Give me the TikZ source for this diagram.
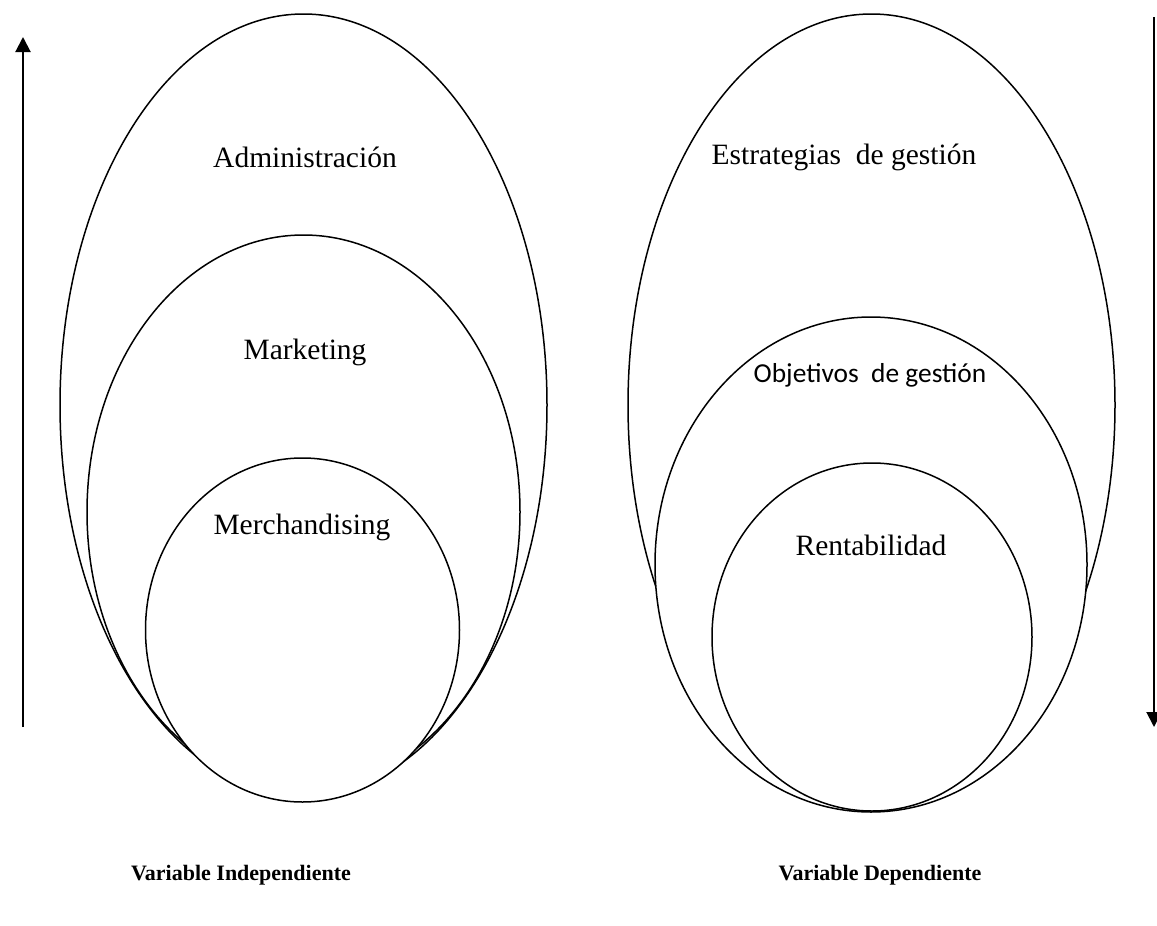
\documentclass[tikz,border=0pt]{standalone}
\usepackage{fontspec}
\setmainfont{Liberation Serif}
\newfontfamily\calibrilike{Carlito}
\usetikzlibrary{arrows.meta,shapes.geometric}
\begin{document}
\begin{tikzpicture}[x=1pt,y=-1pt,
  ring/.style={ellipse, draw=black, fill=white, line width=1.5pt, inner sep=0pt, outer sep=0pt},
  lbl/.style={font=\fontsize{29.5}{34}\selectfont, inner sep=0pt},
  sanslbl/.style={font=\calibrilike\fontsize{27.4}{32}\selectfont, inner sep=0pt},
  caption/.style={font=\fontsize{22}{26}\selectfont\bfseries, inner sep=0pt},
  axis/.style={line width=2pt, -{Triangle[width=15pt,length=15pt]}}]
\useasboundingbox (0,0) rectangle (1157,926);
\clip (0,0) rectangle (1157,926);

% independent variable: nested sets
\node[ring, minimum width=487pt, minimum height=782pt] (admin) at (303.5,405) {};
\node[ring, minimum width=433pt, minimum height=554pt] (mkt) at (303.5,512) {};
\node[ring, minimum width=314pt, minimum height=344pt] (merch) at (302.5,630) {};

% dependent variable: nested sets
\node[ring, minimum width=487pt, minimum height=782pt] (estr) at (871.5,405) {};
\node[ring, minimum width=432pt, minimum height=495pt] (obj) at (871,564.5) {};
\node[ring, minimum width=320pt, minimum height=348pt] (rent) at (872,637) {};

% labels
\node[lbl] (tadmin) at (305,157) {Administración};
\node[lbl] (tmkt) at (305,352) {Marketing};
\node[lbl] (tmerch) at (302,527) {Merchandising};
\node[lbl] (testr) at (844,157) {Estrategias\ \ de gestión};
\node[sanslbl] (tobj) at (870,375) {Objetivos\ \ de gestión};
\node[lbl] (trent) at (871,545) {Rentabilidad};

\node[caption] (cind) at (241,875) {Variable Independiente};
\node[caption] (cdep) at (880,875) {Variable Dependiente};

% direction arrows
\coordinate (lb) at (23,727);
\coordinate (lt) at (23,37);
\draw[axis] (lb) -- (lt);
\coordinate (rt) at (1154,17);
\coordinate (rb) at (1154,727);
\draw[axis] (rt) -- (rb);
\end{tikzpicture}
\end{document}
